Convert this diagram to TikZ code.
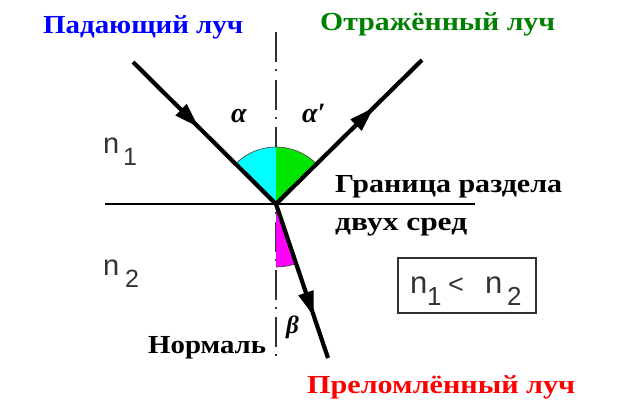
\documentclass[tikz,border=0pt]{standalone}
\usepackage{fontspec}
\setmainfont{Liberation Serif}
\newfontfamily\arialf{Liberation Sans}
\usepackage{graphicx}
\usetikzlibrary{arrows.meta,decorations.markings}
\definecolor{lblblue}{RGB}{0,0,255}
\definecolor{lblgreen}{RGB}{0,128,0}
\definecolor{lblred}{RGB}{255,0,0}
\definecolor{seccyan}{RGB}{0,255,255}
\definecolor{secgreen}{RGB}{0,230,0}
\definecolor{secmag}{RGB}{255,0,255}
\definecolor{ngray}{RGB}{50,50,50}
\newcommand\fitw[2]{\resizebox{#1pt}{\height}{#2}}
\begin{document}
\begin{tikzpicture}[x=1pt,y=-1pt,
  hdr/.style={inner sep=0pt, anchor=base west, font=\fontsize{26}{30}\selectfont\bfseries},
  ray/.style={line width=4.2pt, black},
  arrowat/.style={postaction={decorate}, decoration={markings, mark=at position #1 with {\arrow{Triangle[length=25pt,width=15pt]}}}},
  greek/.style={inner sep=0pt, anchor=base west, font=\fontsize{28}{30}\selectfont\bfseries\itshape},
  nlab/.style={inner sep=0pt, anchor=base west, text=ngray, font=\arialf\fontsize{29}{30}\selectfont},
  nsub/.style={inner sep=0pt, anchor=base west, text=ngray, font=\arialf\fontsize{25}{26}\selectfont},
  normalline/.style={ngray, line width=1.4pt, dash pattern=on 30pt off 7pt on 2pt off 8.5pt},
]
\useasboundingbox (0,0) rectangle (621,400);
% key points
\coordinate (O) at (276,204);
\coordinate (A) at (133,62);
\coordinate (B) at (422,60);
\coordinate (C) at (328,358);
\coordinate (L) at (105,204);
\coordinate (R) at (475,204);
\coordinate (Ntop) at (276,32);
\coordinate (Nbot) at (276,360);
\coordinate (boxa) at (398,258);
\coordinate (boxb) at (536,313);
% normal
\draw[normalline] (Ntop) -- (Nbot);
% angle sectors
\fill[seccyan] (O) -- ++(225:57) arc[start angle=225, end angle=270, radius=57] -- cycle;
\fill[secgreen] (O) -- ++(270:57) arc[start angle=270, end angle=315, radius=57] -- cycle;
\draw[line width=0.7pt, black!70] (O) ++(225:57) arc[start angle=225, end angle=315, radius=57];
\fill[secmag] (O) -- ++(71.3:63) arc[start angle=71.3, end angle=90, radius=63] -- cycle;
\draw[line width=0.7pt, black!70] (O) ++(71.3:63) arc[start angle=71.3, end angle=90, radius=63];
% boundary
\draw[line width=2.8pt] (L) -- (R);
% rays
\draw[ray, arrowat=0.46] (A) -- (O);
\draw[ray, arrowat=0.67] (O) -- (B);
\draw[ray, arrowat=0.73] (O) -- (C);
% labels
\node[hdr, text=lblblue] (inc) at (43,33) {\fitw{200}{Падающий луч}};
\node[hdr, text=lblgreen] (refl) at (320,30) {\fitw{235}{Отражённый луч}};
\node[hdr, text=lblred] (refr) at (307,393) {\fitw{268}{Преломлённый луч}};
\node[hdr] (bnd1) at (335,192) {\fitw{227}{Граница раздела}};
\node[hdr] (bnd2) at (335,230) {\fitw{132}{двух сред}};
\node[hdr] (norm) at (148,353) {\fitw{118}{Нормаль}};
\node[greek] (alpha) at (231,122) {α};
\node[greek] (alphap) at (302,122) {α′};
\node[greek, font=\fontsize{25}{27}\selectfont\bfseries\itshape] (beta) at (286,333) {β};
% refractive indices
\node[nlab] (n1) at (103,153) {n};
\node[nsub] (n1s) at (123,165) {1};
\node[nlab] (n2) at (103,275) {n};
\node[nsub] (n2s) at (125,287) {2};
% inequality box
\draw[ngray, line width=1.5pt] (boxa) rectangle (boxb);
\node[nlab, font=\arialf\fontsize{31}{32}\selectfont] (in1) at (410,293) {n};
\node[nsub, font=\arialf\fontsize{26}{27}\selectfont] (in1s) at (427,305) {1};
\node[nsub, font=\arialf\fontsize{27}{28}\selectfont] (inlt) at (448,293) {<};
\node[nlab, font=\arialf\fontsize{31}{32}\selectfont] (in2) at (485,293) {n};
\node[nsub, font=\arialf\fontsize{26}{27}\selectfont] (in2s) at (507,305) {2};
\end{tikzpicture}
\end{document}
